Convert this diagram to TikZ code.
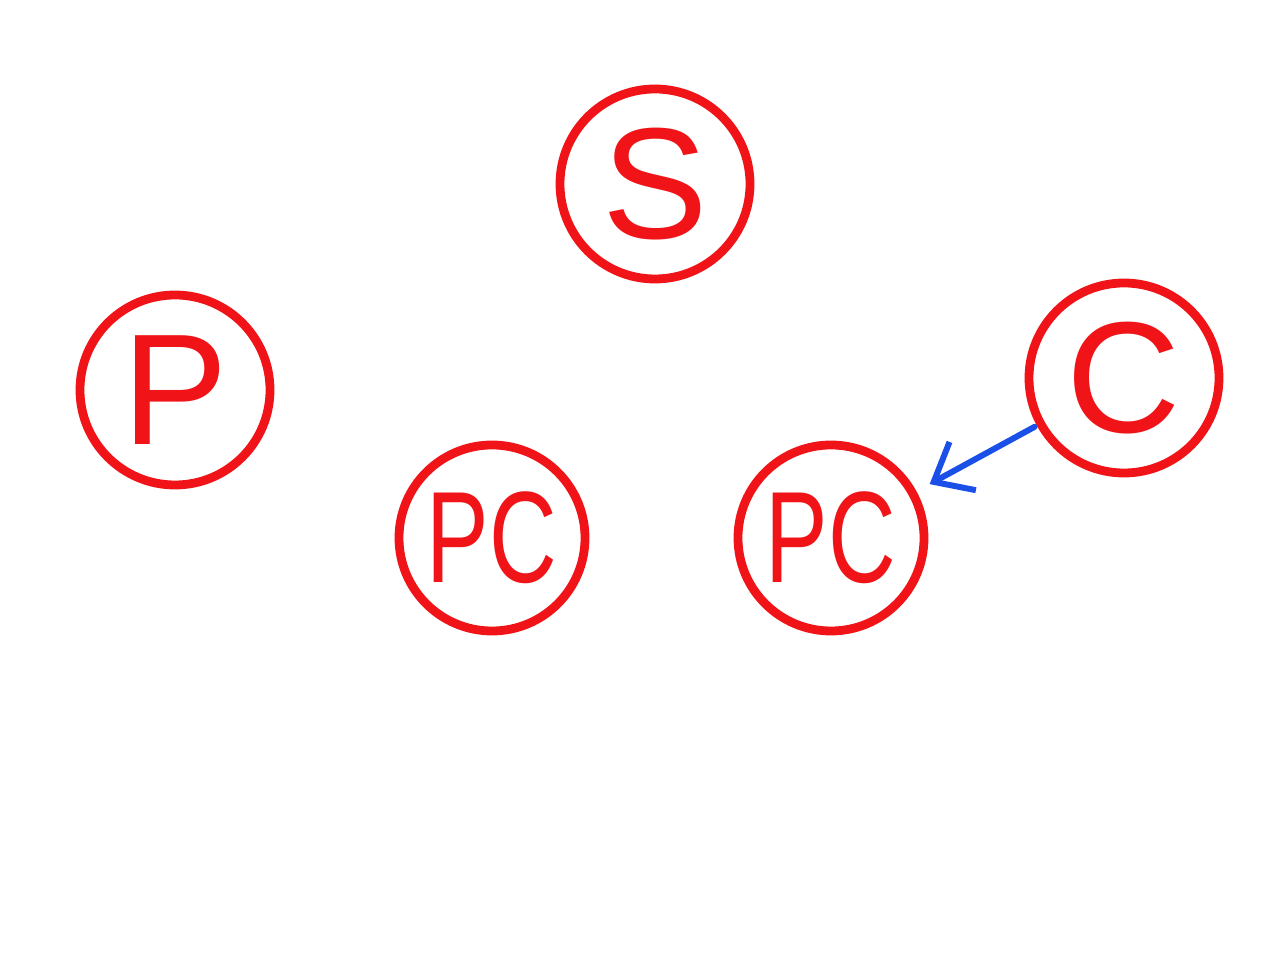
\documentclass[tikz,border=0pt]{standalone}
\usepackage{fontspec}
\setmainfont{Liberation Sans}
\usetikzlibrary{arrows.meta}
\definecolor{hred}{HTML}{F01418}
\definecolor{hblue}{HTML}{1A4FE8}
\begin{document}
\begin{tikzpicture}
\useasboundingbox (0,0) rectangle (25.6,19.2);
\fill[white] (0,0) rectangle (25.6,19.2);
\tikzset{
  bubble/.style={circle, draw=hred, line width=5pt, text=hred, inner sep=0pt},
  big/.style={bubble, minimum size=3.8cm, font=\fontsize{90}{90}\selectfont},
  mid/.style={bubble, minimum size=3.72cm, font=\fontsize{74}{74}\selectfont},
  link/.style={draw=hblue, line width=3.4pt, line cap=round, line join=round,
    -{Straight Barb[length=0.66cm, width=1.1cm, line width=3.4pt]}}
}
\node[big] (S) at (13.1,15.52) {S};
\node[big] (P) at (3.5,11.4) {P};
\node[mid] (PC1) at (9.84,8.44) {\scalebox{0.72}[1]{PC}};
\node[mid] (PC2) at (16.62,8.44) {\scalebox{0.72}[1]{PC}};
\node[big] (C) at (22.48,11.64) {C};
\draw[link, shorten <=0.05cm, shorten >=0.3cm] (C) -- (PC2);
\end{tikzpicture}
\end{document}
